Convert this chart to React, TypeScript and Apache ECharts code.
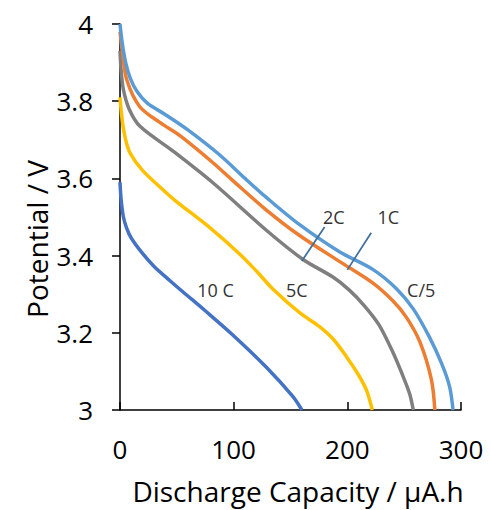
import React, { useEffect, useRef } from "react";
import * as echarts from "echarts";

// Discharge curves: [capacity µA.h, potential V]
const curveC5: [number, number][] = [
  [0, 4.0], [2, 3.95], [5, 3.9], [9, 3.86], [15, 3.825], [24, 3.795], [40, 3.765],
  [60, 3.725], [88, 3.66], [110, 3.6], [129, 3.55], [158, 3.48], [193, 3.41],
  [222, 3.365], [243, 3.315], [258, 3.262], [272, 3.19], [283, 3.12], [290, 3.06],
  [293, 3.0],
];
const curve1C: [number, number][] = [
  [0, 3.98], [2, 3.93], [6, 3.855], [17.6, 3.785], [35, 3.745], [53, 3.71], [82, 3.64],
  [99, 3.595], [128, 3.52], [158, 3.452], [193, 3.385], [222, 3.33], [240, 3.283],
  [252, 3.24], [264, 3.175], [274, 3.078], [277, 3.0],
];
const curve2C: [number, number][] = [
  [0, 3.93], [1, 3.88], [3, 3.83], [8, 3.78], [17.6, 3.735], [47, 3.67], [82, 3.588],
  [129, 3.465], [161, 3.39], [187, 3.345], [202, 3.31], [215, 3.27], [228, 3.22],
  [240, 3.15], [250, 3.08], [255, 3.04], [258, 3.0],
];
const curve5C: [number, number][] = [
  [0, 3.81], [2, 3.75], [5, 3.7], [9, 3.665], [20, 3.62], [38, 3.57], [48, 3.544],
  [80, 3.47], [105, 3.405], [120, 3.36], [134, 3.315], [158, 3.252], [175, 3.217],
  [188, 3.182], [200, 3.135], [210, 3.09], [217, 3.05], [222, 3.0],
];
const curve10C: [number, number][] = [
  [0, 3.59], [1, 3.545], [3, 3.5], [6, 3.47], [10, 3.445], [20, 3.405], [30, 3.372],
  [44, 3.335], [55, 3.307], [75, 3.257], [99, 3.195], [129, 3.11], [152, 3.035],
  [160, 3.0],
];

const seriesNames = ["C/5", "1C", "2C", "5C", "10 C"];
const seriesColors = ["#5B9BD5", "#ED7D31", "#7F7F7F", "#FFC000", "#4472C4"];
const seriesData = [curveC5, curve1C, curve2C, curve5C, curve10C];

const xTicks = { min: 0, max: 300, interval: 100 };
const yTicks = { min: 3, max: 4, interval: 0.2 };

// Annotation labels in data coordinates
const labelTexts = ["2C", "1C", "C/5", "5C", "10 C"];
const labelCoords: [number, number][] = [
  [188, 3.5], [236, 3.5], [265, 3.311], [155.5, 3.311], [84, 3.311],
];
// Leader lines in data coordinates
const leaderLines: [[number, number], [number, number]][] = [
  [[180, 3.474], [160, 3.386]],
  [[221, 3.459], [200, 3.363]],
];

const FONT = "Open Sans";

export default function App() {
  const ref = useRef<HTMLDivElement>(null);
  useEffect(() => {
    if (!ref.current) return;
    const chart = echarts.init(ref.current, undefined, { renderer: "svg" });
    chart.setOption({
      animation: false,
      backgroundColor: "#ffffff",
      grid: { left: 120, right: 30, top: 24, bottom: 100, containLabel: false },
      xAxis: {
        type: "value",
        min: xTicks.min,
        max: xTicks.max,
        interval: xTicks.interval,
        axisLine: { show: true, onZero: false, lineStyle: { color: "#000", width: 1.5 } },
        axisTick: { show: true, inside: true, length: 8, lineStyle: { color: "#000", width: 1.5 } },
        axisLabel: { color: "#000", fontSize: 26, fontFamily: FONT, margin: 26 },
        splitLine: { show: false },
      },
      yAxis: {
        type: "value",
        min: yTicks.min,
        max: yTicks.max,
        interval: yTicks.interval,
        axisLine: { show: true, onZero: false, lineStyle: { color: "#000", width: 1.5 } },
        axisTick: { show: true, inside: false, length: 8, lineStyle: { color: "#000", width: 1.5 } },
        axisLabel: { color: "#000", fontSize: 26, fontFamily: FONT, margin: 27 },
        splitLine: { show: false },
      },
      series: seriesData.map((d, i) => ({
        name: seriesNames[i],
        type: "line",
        data: d,
        smooth: 0.3,
        symbol: "none",
        z: 10 - i,
        lineStyle: { color: seriesColors[i], width: 3.5 },
      })),
    });

    const px = (p: [number, number]) => chart.convertToPixel({ gridIndex: 0 }, p) as number[];
    const graphics: any[] = [];
    labelTexts.forEach((t, i) => {
      const [x, y] = px(labelCoords[i]);
      graphics.push({
        type: "text",
        x,
        y,
        style: {
          text: t,
          fontSize: 18,
          fontFamily: FONT,
          fill: "#333",
          align: "center",
          verticalAlign: "middle",
        },
      });
    });
    leaderLines.forEach((l) => {
      const [x1, y1] = px(l[0]);
      const [x2, y2] = px(l[1]);
      graphics.push({
        type: "line",
        shape: { x1, y1, x2, y2 },
        style: { stroke: "#41719C", lineWidth: 1.8 },
        z: 20,
      });
    });
    graphics.push({
      type: "text",
      x: 37,
      y: 239,
      rotation: Math.PI / 2,
      style: {
        text: "Potential / V",
        fontSize: 28,
        fontFamily: FONT,
        fill: "#000",
        align: "center",
        verticalAlign: "middle",
      },
    });
    graphics.push({
      type: "text",
      x: 298,
      y: 491,
      style: {
        text: "Discharge Capacity / μA.h",
        fontSize: 28,
        fontFamily: FONT,
        fill: "#000",
        align: "center",
        verticalAlign: "middle",
      },
    });
    chart.setOption({ graphic: graphics });
    return () => chart.dispose();
  }, []);
  return (
    <div
      ref={ref}
      style={{ position: "absolute", left: 0, top: 0, width: 491, height: 510 }}
    />
  );
}
